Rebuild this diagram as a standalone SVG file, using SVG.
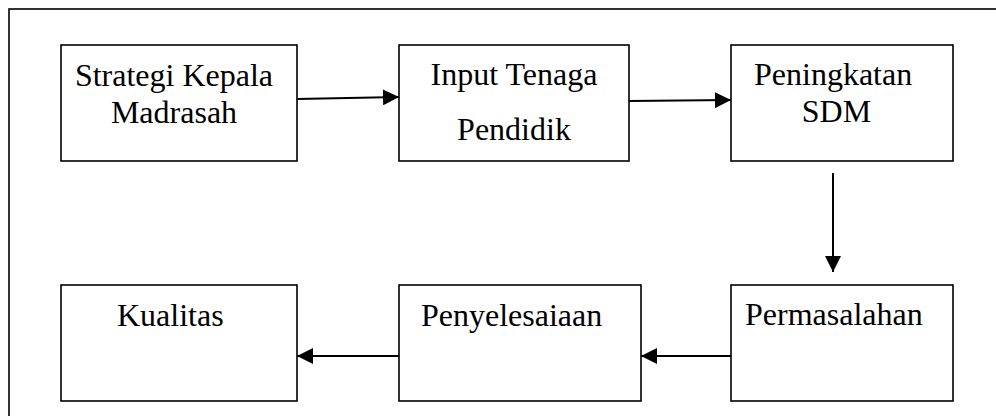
<svg xmlns="http://www.w3.org/2000/svg" width="996" height="416" viewBox="0 0 996 416">
  <style>
    .box { fill: #ffffff; stroke: #000000; stroke-width: 1.6; }
    .frame { fill: none; stroke: #000000; stroke-width: 1.6; }
    .lbl { font-family: "Liberation Serif", "Times New Roman", serif; font-size: 32px; fill: #000000; }
    .mid { text-anchor: middle; }
    .link { fill: none; stroke: #000000; stroke-width: 2; marker-end: url(#head); }
  </style>
  <defs>
    <marker id="head" viewBox="0 0 10 10" refX="10" refY="5" markerWidth="16" markerHeight="16" markerUnits="userSpaceOnUse" orient="auto">
      <path d="M0,0 L10,5 L0,10 Z" fill="#000000"/>
    </marker>
  </defs>

  <!-- outer frame, right and bottom sides run past the page -->
  <rect class="frame" x="9" y="9" width="1010" height="430"/>

  <g id="node-strategi">
    <rect class="box" x="61" y="45" width="236" height="116"/>
    <text class="lbl mid" x="174" y="86">Strategi Kepala</text>
    <text class="lbl mid" x="174" y="123">Madrasah</text>
  </g>

  <g id="node-input">
    <rect class="box" x="399" y="45" width="230" height="116"/>
    <text class="lbl mid" x="514" y="85">Input Tenaga</text>
    <text class="lbl mid" x="514" y="140">Pendidik</text>
  </g>

  <g id="node-peningkatan">
    <rect class="box" x="731" y="45" width="222" height="116"/>
    <text class="lbl" x="754" y="85">Peningkatan</text>
    <text class="lbl mid" x="836.5" y="122">SDM</text>
  </g>

  <g id="node-permasalahan">
    <rect class="box" x="731" y="285" width="222" height="116"/>
    <text class="lbl" x="745" y="325">Permasalahan</text>
  </g>

  <g id="node-penyelesaiaan">
    <rect class="box" x="399" y="285" width="242" height="116"/>
    <text class="lbl" x="421" y="326">Penyelesaiaan</text>
  </g>

  <g id="node-kualitas">
    <rect class="box" x="61" y="285" width="236" height="116"/>
    <text class="lbl" x="117" y="326">Kualitas</text>
  </g>

  <g id="connectors">
    <line class="link" x1="297" y1="99" x2="399" y2="97"/>
    <line class="link" x1="629" y1="101" x2="731" y2="100"/>
    <line class="link" x1="833" y1="173" x2="833" y2="272"/>
    <line class="link" x1="731" y1="356" x2="641" y2="356"/>
    <line class="link" x1="399" y1="356" x2="297" y2="356"/>
  </g>
</svg>
